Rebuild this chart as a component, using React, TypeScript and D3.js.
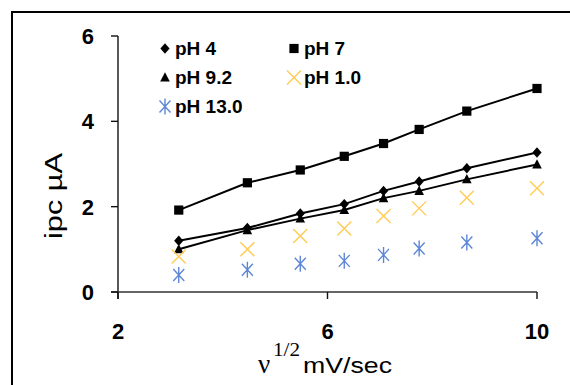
import React from "react";
import * as d3 from "d3";

// Square root of scan rate (mV/s)^1/2
const scanRootX = [3.16, 4.47, 5.48, 6.32, 7.07, 7.75, 8.66, 10];

// Cathodic peak current (µA) for each pH
const ipcPH4 = [1.2, 1.5, 1.84, 2.06, 2.37, 2.59, 2.9, 3.27];
const ipcPH7 = [1.92, 2.56, 2.86, 3.18, 3.48, 3.81, 4.24, 4.77];
const ipcPH92 = [1.0, 1.45, 1.72, 1.92, 2.2, 2.37, 2.64, 2.99];
const ipcPH10 = [0.83, 1.0, 1.31, 1.49, 1.78, 1.96, 2.21, 2.43];
const ipcPH13 = [0.4, 0.52, 0.66, 0.73, 0.87, 1.02, 1.16, 1.26];

const xTicks = [2, 6, 10];
const yTicks = [0, 2, 4, 6];

type MarkerKind = "diamond" | "square" | "triangle" | "times" | "star";

const seriesList: {
  name: string;
  values: number[];
  marker: MarkerKind;
  color: string;
  line: boolean;
}[] = [
  { name: "pH 4", values: ipcPH4, marker: "diamond", color: "#000", line: true },
  { name: "pH 7", values: ipcPH7, marker: "square", color: "#000", line: true },
  { name: "pH 9.2", values: ipcPH92, marker: "triangle", color: "#000", line: true },
  { name: "pH 1.0", values: ipcPH10, marker: "times", color: "#FFCB52", line: false },
  { name: "pH 13.0", values: ipcPH13, marker: "star", color: "#5D87D6", line: false },
];

const W = 570;
const H = 385;
const FONT = "'Liberation Sans', Arial, sans-serif";
const SERIF = "'Liberation Serif', 'Times New Roman', serif";

const x = d3.scaleLinear().domain([2, 10]).range([118, 537]);
const y = d3.scaleLinear().domain([0, 6]).range([292, 36]);

function Marker({ kind, cx, cy, color }: { kind: MarkerKind; cx: number; cy: number; color: string }) {
  const t = `translate(${cx},${cy})`;
  if (kind === "diamond") {
    return <path transform={t} d="M0,-5.2L4.6,0L0,5.2L-4.6,0Z" fill={color} />;
  }
  if (kind === "square") {
    return <rect x={cx - 4.6} y={cy - 4.6} width={9.2} height={9.2} fill={color} />;
  }
  if (kind === "triangle") {
    return <path transform={t} d="M0,-5.3L4.8,4L-4.8,4Z" fill={color} />;
  }
  if (kind === "times") {
    return (
      <path
        transform={t}
        d="M-7,-7L7,7M-7,7L7,-7"
        stroke={color}
        strokeWidth={1.4}
        fill="none"
      />
    );
  }
  return (
    <path
      transform={t}
      d="M0,-8L0,8M-5.5,-6L5.5,6M-5.5,6L5.5,-6"
      stroke={color}
      strokeWidth={1.4}
      fill="none"
    />
  );
}

export default function App() {
  const lineGen = d3
    .line<number>()
    .x((_, i) => x(scanRootX[i]))
    .y((v) => y(v));

  const legendPos = [
    { mx: 165, my: 48.5 },
    { mx: 294, my: 48.5 },
    { mx: 165, my: 77.5 },
    { mx: 294, my: 77.5 },
    { mx: 165, my: 106.5 },
  ];

  return (
    <svg
      width={W}
      height={H}
      style={{ position: "fixed", left: 0, top: 0, background: "#fff" }}
      fontFamily={FONT}
    >
      <rect x={0} y={0} width={W} height={H} fill="#fff" />
      {/* chart frame */}
      <rect x={12} y={12} width={W + 20} height={H + 20} fill="none" stroke="#000" strokeWidth={2} />

      {/* axes */}
      <line x1={x(2)} x2={x(2)} y1={y(6)} y2={y(0) + 7} stroke="#111" strokeWidth={1.4} />
      <line x1={x(2) - 7} x2={x(10)} y1={y(0)} y2={y(0)} stroke="#333" strokeWidth={1.4} />
      {yTicks.map((t) => (
        <g key={"yt" + t}>
          <line x1={x(2) - 7} x2={x(2)} y1={y(t)} y2={y(t)} stroke="#111" strokeWidth={1.4} />
          <text
            x={94}
            y={y(t)}
            dy="0.36em"
            textAnchor="end"
            fontSize={22}
            fontWeight="bold"
            fill="#000"
          >
            {t}
          </text>
        </g>
      ))}
      {xTicks.map((t) => (
        <g key={"xt" + t}>
          <line x1={x(t)} x2={x(t)} y1={y(0)} y2={y(0) + 7} stroke="#111" strokeWidth={1.4} />
          <text
            x={x(t)}
            y={339}
            textAnchor="middle"
            fontSize={22}
            fontWeight="bold"
            fill="#000"
          >
            {t}
          </text>
        </g>
      ))}

      {/* axis titles */}
      <text
        transform="translate(62,196) rotate(-90)"
        textAnchor="middle"
        fontSize={23}
        fill="#000"
        textLength={86}
        lengthAdjust="spacingAndGlyphs"
      >
        ipc µA
      </text>
      <text x={258} y={373} fontFamily={SERIF} fontSize={27} fill="#000">
        ν
      </text>
      <text
        x={273}
        y={356}
        fontFamily={SERIF}
        fontSize={19}
        fill="#000"
        textLength={27}
        lengthAdjust="spacingAndGlyphs"
      >
        1/2
      </text>
      <text
        x={303}
        y={373}
        fontSize={22}
        fill="#000"
        textLength={89}
        lengthAdjust="spacingAndGlyphs"
      >
        mV/sec
      </text>

      {/* series lines */}
      {seriesList
        .filter((s) => s.line)
        .map((s) => (
          <path
            key={"l" + s.name}
            d={lineGen(s.values) || ""}
            fill="none"
            stroke="#000"
            strokeWidth={2}
          />
        ))}

      {/* series markers */}
      {seriesList.map((s) => (
        <g key={"m" + s.name}>
          {s.values.map((v, i) => (
            <Marker key={i} kind={s.marker} cx={x(scanRootX[i])} cy={y(v)} color={s.color} />
          ))}
        </g>
      ))}

      {/* legend */}
      {seriesList.map((s, i) => (
        <g key={"lg" + s.name}>
          <Marker kind={s.marker} cx={legendPos[i].mx} cy={legendPos[i].my} color={s.color} />
          <text
            x={legendPos[i].mx + 10}
            y={legendPos[i].my + 6.5}
            fontSize={19}
            fontWeight="bold"
            fill="#000"
          >
            {s.name}
          </text>
        </g>
      ))}
    </svg>
  );
}
